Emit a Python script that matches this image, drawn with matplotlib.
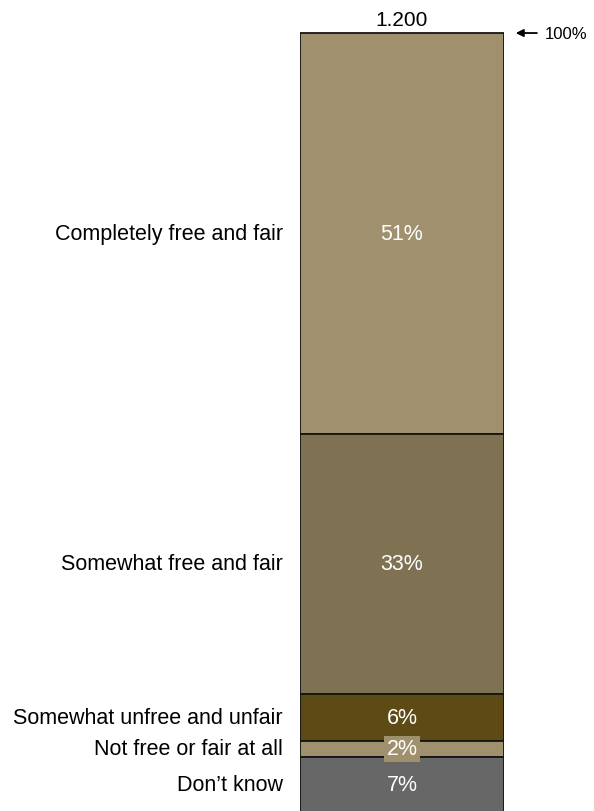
import matplotlib.pyplot as plt

plt.rcParams['font.family'] = ['Liberation Sans', 'DejaVu Sans']

categories = ['Completely free and fair', 'Somewhat free and fair',
              'Somewhat unfree and unfair', 'Not free or fair at all', "Don\u2019t know"]
values = [51, 33, 6, 2, 7]
colors = ['#A0906E', '#7E7253', '#5E4A14', '#A0906E', '#676767']
total_label = '1.200'

fig = plt.figure(figsize=(5.94, 8.12), dpi=100)
ax = fig.add_axes([300 / 594, 0, 204 / 594, 1])

tr = ax.get_yaxis_transform()
bottom = 0
for cat, val, col in zip(categories, values, colors):
    ax.bar(0.5, val, width=1, bottom=bottom, color=col, edgecolor='#151515', linewidth=1.3)
    mid = bottom + val / 2
    ax.text(-0.083, mid, cat, transform=tr, ha='right', va='center', fontsize=15.5, color='black', clip_on=False)
    if val < 3:
        # small segment: label gets a box in the bar colour
        ax.text(0.5, mid, f'{val}%', transform=tr, ha='center', va='center', fontsize=15.5, color='white',
                bbox=dict(boxstyle='square,pad=0.12', fc='#A0906E', ec='none'))
    else:
        ax.text(0.5, mid, f'{val}%', transform=tr, ha='center', va='center', fontsize=15.5, color='white')
    bottom += val

ax.set_xlim(0, 1)
ax.set_ylim(98.9, -34 / 7.86)
ax.axis('off')

ax.text(0.5, -0.5, total_label, transform=tr, ha='center', va='bottom', fontsize=15, clip_on=False)
ax.annotate('', xy=(1.044, 0), xytext=(1.175, 0), xycoords=tr, textcoords=tr,
            arrowprops=dict(arrowstyle='-|>', color='black', lw=1.3, mutation_scale=11))
ax.text(1.2, 0, '100%', transform=tr, ha='left', va='center', fontsize=12, clip_on=False)

fig.savefig('out.png', dpi=100)
